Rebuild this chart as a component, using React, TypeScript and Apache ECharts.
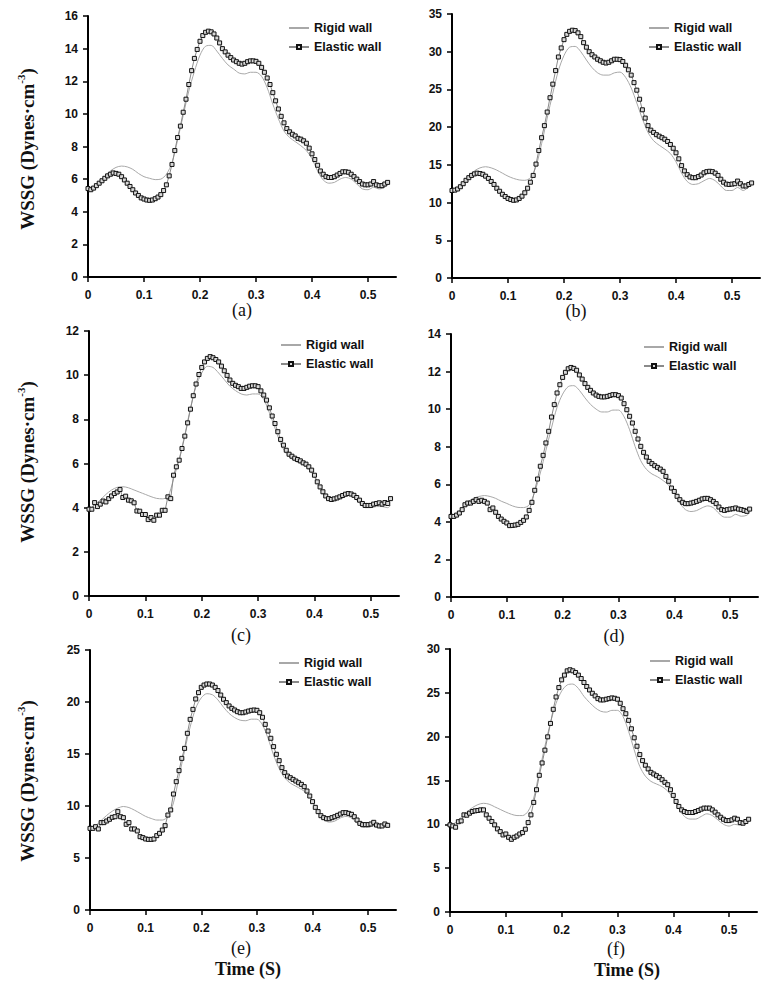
import React, { useEffect, useRef } from "react";
import * as echarts from "echarts";

// sample times (s)
const TIME_ELASTIC = [
  0, 0.005, 0.01, 0.015, 0.02, 0.025, 0.03, 0.035, 0.04, 0.045,
  0.05, 0.055, 0.06, 0.065, 0.07, 0.075, 0.08, 0.085, 0.09, 0.095,
  0.1, 0.105, 0.11, 0.115, 0.12, 0.125, 0.13, 0.135, 0.14, 0.145,
  0.15, 0.155, 0.16, 0.165, 0.17, 0.175, 0.18, 0.185, 0.19, 0.195,
  0.2, 0.205, 0.21, 0.215, 0.22, 0.225, 0.23, 0.235, 0.24, 0.245,
  0.25, 0.255, 0.26, 0.265, 0.27, 0.275, 0.28, 0.285, 0.29, 0.295,
  0.3, 0.305, 0.31, 0.315, 0.32, 0.325, 0.33, 0.335, 0.34, 0.345,
  0.35, 0.355, 0.36, 0.365, 0.37, 0.375, 0.38, 0.385, 0.39, 0.395,
  0.4, 0.405, 0.41, 0.415, 0.42, 0.425, 0.43, 0.435, 0.44, 0.445,
  0.45, 0.455, 0.46, 0.465, 0.47, 0.475, 0.48, 0.485, 0.49, 0.495,
  0.5, 0.505, 0.51, 0.515, 0.52, 0.525, 0.53, 0.535,
];
const TIME_RIGID = [
  0, 0.01, 0.02, 0.03, 0.04, 0.05, 0.06, 0.07, 0.08, 0.09,
  0.1, 0.11, 0.12, 0.13, 0.14, 0.15, 0.16, 0.17, 0.18, 0.19,
  0.2, 0.21, 0.22, 0.23, 0.24, 0.25, 0.26, 0.27, 0.28, 0.29,
  0.3, 0.31, 0.32, 0.33, 0.34, 0.35, 0.36, 0.37, 0.38, 0.39,
  0.4, 0.41, 0.42, 0.43, 0.44, 0.45, 0.46, 0.47, 0.48, 0.49,
  0.5, 0.51, 0.52, 0.53, 0.535,
];
const X_TICKS = [0, 0.1, 0.2, 0.3, 0.4, 0.5];

// (a)
const ELASTIC_A = [
  5.42, 5.35, 5.45, 5.6, 5.75, 5.9, 6.05, 6.2, 6.3, 6.38,
  6.35, 6.3, 6.15, 5.95, 5.75, 5.55, 5.35, 5.15, 5.0, 4.85,
  4.78, 4.72, 4.7, 4.72, 4.8, 4.9, 5.05, 5.3, 5.65, 6.2,
  6.9, 7.75, 8.55, 9.25, 10.1, 10.9, 11.8, 12.65, 13.4, 13.95,
  14.45, 14.8, 15.0, 15.07, 15.03, 14.9, 14.65, 14.35, 14.0, 13.8,
  13.6, 13.45, 13.3, 13.2, 13.1, 13.05, 13.1, 13.2, 13.25, 13.25,
  13.22, 13.1, 12.85, 12.55, 12.2, 11.8, 11.3, 10.8, 10.3, 9.85,
  9.45, 9.1, 8.9, 8.75, 8.65, 8.5, 8.45, 8.35, 8.2, 7.9,
  7.55, 7.2, 6.85, 6.5, 6.3, 6.15, 6.1, 6.1, 6.15, 6.25,
  6.35, 6.45, 6.45, 6.42, 6.3, 6.15, 6.0, 5.85, 5.7, 5.65,
  5.65, 5.7, 5.85, 5.65, 5.6, 5.6, 5.7, 5.8,
];
const RIGID_A = [
  5.4, 5.5, 5.8, 6.15, 6.5, 6.72, 6.8, 6.75, 6.6, 6.35,
  6.15, 6.05, 5.97, 6.0, 6.3, 7.0, 8.4, 9.9, 11.4, 12.6,
  13.6, 14.15, 14.2, 13.85, 13.4, 13.0, 12.75, 12.5, 12.45, 12.55,
  12.55, 12.3, 11.6, 10.6, 9.7, 8.95, 8.55, 8.3, 8.05, 7.75,
  7.25, 6.5, 5.95, 5.75, 5.8, 6.0, 6.1, 6.0, 5.7, 5.4,
  5.35, 5.5, 5.4, 5.5, 5.7,
];
// (b)
const ELASTIC_B = [
  11.6, 11.65, 11.8, 12.1, 12.5, 12.95, 13.3, 13.6, 13.8, 13.9,
  13.85, 13.75, 13.5, 13.2, 12.8, 12.4, 11.9, 11.5, 11.1, 10.8,
  10.55, 10.4, 10.3, 10.35, 10.55, 10.85, 11.3, 11.9, 12.7, 13.6,
  15.1, 16.9, 18.6, 20.2, 22.0, 23.9, 25.7, 27.5, 29.3, 30.5,
  31.6, 32.3, 32.7, 32.85, 32.8, 32.5, 32.0, 31.2, 30.6, 30.0,
  29.6, 29.3, 29.0, 28.8, 28.6, 28.5, 28.6, 28.8, 29.0, 29.0,
  28.95, 28.7, 28.2, 27.6, 26.9, 25.9, 24.9, 23.7, 22.3, 21.2,
  20.2, 19.6, 19.3, 19.0, 18.8, 18.6, 18.4, 18.1, 17.7, 17.2,
  16.6, 15.8, 14.9, 14.2, 13.7, 13.4, 13.3, 13.3, 13.45, 13.65,
  13.95, 14.1, 14.15, 14.1, 13.9, 13.6, 13.1, 12.7, 12.45, 12.4,
  12.45, 12.5, 12.85, 12.5, 12.2, 12.2, 12.4, 12.6,
];
const RIGID_B = [
  11.6, 11.9, 12.6, 13.5, 14.2, 14.6, 14.75, 14.6, 14.3, 13.9,
  13.5, 13.2, 13.0, 12.95, 13.3, 14.8, 17.8, 21.2, 24.5, 27.5,
  29.5, 30.6, 30.7, 30.0, 28.9, 27.9, 27.2, 26.9, 26.9, 27.2,
  27.3, 26.6, 25.2, 23.2, 21.1, 19.3, 18.2, 17.6, 17.1, 16.5,
  15.4, 13.9, 12.8, 12.4, 12.5, 12.9, 13.2, 12.9, 12.2, 11.6,
  11.6, 12.0, 11.6, 12.1, 12.5,
];
// (c)
const ELASTIC_C = [
  3.93, 3.93, 4.23, 4.05, 4.16, 4.3, 4.26, 4.41, 4.53, 4.64,
  4.71, 4.82, 4.46, 4.52, 4.34, 4.31, 4.22, 3.85, 3.84, 3.69,
  3.69, 3.46, 3.55, 3.43, 3.66, 3.66, 3.88, 3.88, 4.49, 4.41,
  5.47, 5.85, 6.15, 6.68, 7.24, 7.84, 8.46, 9.07, 9.6, 10.03,
  10.35, 10.6, 10.76, 10.84, 10.79, 10.71, 10.6, 10.41, 10.2, 9.99,
  9.78, 9.63, 9.54, 9.48, 9.4, 9.4, 9.45, 9.5, 9.52, 9.52,
  9.48, 9.29, 9.1, 8.87, 8.52, 8.15, 7.81, 7.44, 7.09, 6.83,
  6.6, 6.42, 6.33, 6.24, 6.18, 6.12, 6.03, 5.97, 5.85, 5.7,
  5.47, 5.17, 4.94, 4.72, 4.53, 4.41, 4.37, 4.4, 4.44, 4.49,
  4.55, 4.61, 4.64, 4.62, 4.56, 4.46, 4.34, 4.19, 4.1, 4.1,
  4.1, 4.16, 4.19, 4.22, 4.16, 4.23, 4.19, 4.41,
];
const RIGID_C = [
  3.95, 4.1, 4.35, 4.6, 4.8, 4.92, 4.95, 4.9, 4.8, 4.7,
  4.6, 4.5, 4.42, 4.4, 4.5, 5.3, 6.2, 7.3, 8.5, 9.5,
  10.1, 10.4, 10.35, 10.1, 9.8, 9.5, 9.3, 9.15, 9.1, 9.15,
  9.15, 8.9, 8.3, 7.6, 6.9, 6.45, 6.2, 6.05, 5.95, 5.75,
  5.4, 4.85, 4.45, 4.3, 4.35, 4.45, 4.55, 4.45, 4.2, 4.0,
  4.0, 4.05, 4.05, 4.0, 4.1,
];
// (d)
const ELASTIC_D = [
  4.29, 4.29, 4.36, 4.47, 4.65, 4.91, 5.0, 5.0, 5.09, 5.18,
  5.09, 5.15, 5.09, 5.0, 4.65, 4.74, 4.51, 4.29, 4.15, 4.03,
  3.94, 3.8, 3.81, 3.83, 3.87, 3.97, 4.08, 4.26, 4.61, 5.04,
  5.68, 6.28, 6.96, 7.54, 8.2, 8.82, 9.58, 10.24, 10.86, 11.3,
  11.69, 11.96, 12.15, 12.22, 12.17, 12.07, 11.82, 11.6, 11.36, 11.16,
  11.0, 10.86, 10.75, 10.68, 10.65, 10.65, 10.68, 10.73, 10.77, 10.77,
  10.72, 10.59, 10.29, 9.97, 9.62, 9.26, 8.82, 8.41, 8.02, 7.7,
  7.45, 7.22, 7.1, 6.99, 6.9, 6.81, 6.69, 6.42, 6.16, 5.8,
  5.62, 5.36, 5.18, 5.04, 4.97, 4.97, 5.0, 5.04, 5.09, 5.15,
  5.22, 5.25, 5.25, 5.18, 5.09, 4.97, 4.79, 4.65, 4.61, 4.65,
  4.68, 4.7, 4.74, 4.68, 4.65, 4.61, 4.56, 4.68,
];
const RIGID_D = [
  4.29, 4.45, 4.75, 5.05, 5.25, 5.35, 5.4, 5.35, 5.25, 5.1,
  4.98, 4.85, 4.77, 4.76, 4.9, 5.6, 6.6, 7.8, 9.0, 10.1,
  10.8, 11.2, 11.25, 11.0, 10.6, 10.25, 10.0, 9.85, 9.85, 9.95,
  9.95, 9.6, 8.9, 8.0, 7.25, 6.8, 6.55, 6.4, 6.2, 5.95,
  5.55, 5.0, 4.65, 4.55, 4.6, 4.75, 4.85, 4.75, 4.45, 4.25,
  4.25, 4.4, 4.3, 4.35, 4.5,
];
// (e)
const ELASTIC_E = [
  7.85, 7.85, 8.01, 7.79, 8.4, 8.4, 8.56, 8.72, 8.91, 8.97,
  9.46, 8.97, 8.88, 8.24, 8.4, 7.79, 7.79, 7.6, 7.05, 6.96,
  6.83, 6.79, 6.79, 6.83, 7.15, 7.37, 7.69, 8.11, 9.13, 9.62,
  11.15, 12.34, 13.4, 14.58, 15.54, 16.99, 18.33, 19.29, 20.29, 20.9,
  21.41, 21.63, 21.73, 21.73, 21.63, 21.41, 21.1, 20.67, 20.26, 19.94,
  19.62, 19.39, 19.23, 19.07, 18.97, 18.97, 19.04, 19.13, 19.2, 19.23,
  19.2, 18.97, 18.53, 17.85, 17.21, 16.51, 15.71, 14.97, 14.36, 13.69,
  13.21, 12.88, 12.72, 12.56, 12.4, 12.24, 12.08, 11.86, 11.44, 10.96,
  10.42, 9.87, 9.46, 9.07, 8.88, 8.78, 8.78, 8.88, 8.97, 9.1,
  9.23, 9.36, 9.36, 9.29, 9.2, 8.97, 8.65, 8.33, 8.21, 8.21,
  8.21, 8.27, 8.43, 8.17, 8.08, 8.08, 8.27, 8.14,
];
const RIGID_E = [
  7.85, 8.1, 8.6, 9.1, 9.5, 9.8, 9.95, 9.85, 9.6, 9.3,
  9.0, 8.8, 8.65, 8.65, 9.0, 10.3, 12.8, 15.3, 17.6, 19.4,
  20.4, 20.8, 20.7, 20.2, 19.5, 18.9, 18.5, 18.25, 18.2, 18.35,
  18.35, 17.8, 16.5, 14.9, 13.6, 12.7, 12.2, 11.9, 11.6, 11.2,
  10.4, 9.4, 8.7, 8.45, 8.55, 8.85, 9.0, 8.85, 8.35, 7.95,
  7.95, 8.1, 7.9, 8.0, 8.2,
];
// (f)
const ELASTIC_F = [
  9.94, 9.82, 9.67, 10.3, 10.39, 11.08, 11.04, 11.27, 11.46, 11.54,
  11.58, 11.65, 11.65, 11.08, 10.7, 10.32, 9.94, 9.48, 9.17, 8.79,
  8.9, 8.52, 8.29, 8.52, 8.67, 8.9, 9.06, 9.44, 10.2, 11.08,
  12.5, 13.95, 15.59, 17.0, 18.46, 19.98, 21.51, 23.12, 24.53, 25.6,
  26.48, 27.02, 27.51, 27.63, 27.51, 27.32, 27.02, 26.63, 26.18, 25.72,
  25.33, 24.95, 24.65, 24.34, 24.19, 24.19, 24.27, 24.34, 24.42, 24.38,
  24.27, 23.81, 23.19, 22.62, 21.86, 20.9, 19.87, 18.91, 17.96, 17.27,
  16.74, 16.32, 15.93, 15.74, 15.55, 15.36, 15.09, 14.79, 14.52, 13.95,
  13.3, 12.61, 12.04, 11.65, 11.46, 11.35, 11.35, 11.35, 11.46, 11.58,
  11.73, 11.85, 11.85, 11.85, 11.65, 11.39, 11.08, 10.81, 10.58, 10.43,
  10.43, 10.51, 10.7, 10.58, 10.2, 10.13, 10.32, 10.58,
];
const RIGID_F = [
  9.9, 10.2, 10.8, 11.4, 11.9, 12.25, 12.4, 12.3, 12.0, 11.7,
  11.4, 11.15, 11.0, 11.0, 11.5, 13.0, 16.0, 18.9, 21.6, 23.8,
  25.2, 25.9, 26.0, 25.5, 24.6, 23.9, 23.3, 22.9, 22.8, 23.0,
  23.0, 22.3, 20.6, 18.5, 16.6, 15.5, 14.9, 14.6, 14.3, 13.8,
  13.0, 11.8, 10.9, 10.6, 10.6, 10.9, 11.2, 11.0, 10.5, 10.0,
  9.8, 10.0, 9.9, 10.1, 10.4,
];

const PANEL_LABELS = ["(a)", "(b)", "(c)", "(d)", "(e)", "(f)"];
const Y_MAX = [16, 35, 12, 14, 25, 30];
const Y_STEP = [2, 5, 2, 2, 5, 5];
const RIGID = [RIGID_A, RIGID_B, RIGID_C, RIGID_D, RIGID_E, RIGID_F];
const ELASTIC = [ELASTIC_A, ELASTIC_B, ELASTIC_C, ELASTIC_D, ELASTIC_E, ELASTIC_F];
const SERIES_NAMES = ["Rigid wall", "Elastic wall"];
const X_TITLE = "Time (S)";

// layout (pixels)
const GRIDS = [
  { left: 88, top: 16, width: 308, height: 261 },
  { left: 452, top: 14, width: 308, height: 264 },
  { left: 89, top: 331, width: 310, height: 265 },
  { left: 451, top: 334, width: 307, height: 263 },
  { left: 90, top: 650, width: 306, height: 260 },
  { left: 450, top: 649, width: 307, height: 263 },
];
const LEGEND_POS = [
  { left: 288, top: 21 },
  { left: 648, top: 21 },
  { left: 280, top: 338 },
  { left: 643, top: 340 },
  { left: 278, top: 656 },
  { left: 649, top: 654 },
];
const LABEL_POS = [
  [242, 310],
  [576, 311],
  [241, 635],
  [614, 636],
  [241, 948],
  [616, 949],
];

const SANS = "'Liberation Sans', Arial, sans-serif";
const SERIF = "'Liberation Serif', 'Times New Roman', serif";

export default function App() {
  const ref = useRef<HTMLDivElement>(null);

  useEffect(() => {
    if (!ref.current) return;
    const chart = echarts.init(ref.current, null, { renderer: "svg" });

    const axisFont = {
      fontFamily: SANS,
      fontWeight: "bold" as const,
      fontSize: 12,
      color: "#111",
    };

    const grid = GRIDS.map((g) => ({ ...g, containLabel: false }));
    const xAxis = GRIDS.map((_, i) => ({
      type: "value",
      gridIndex: i,
      min: 0,
      max: 0.55,
      interval: 0.1,
      splitLine: { show: false },
      axisLine: { show: true, onZero: false, lineStyle: { color: "#000", width: 2 } },
      axisTick: {
        show: true,
        inside: false,
        length: 5,
        customValues: X_TICKS,
        lineStyle: { color: "#000", width: 1.5 },
      },
      axisLabel: {
        ...axisFont,
        margin: 12,
        customValues: X_TICKS,
        formatter: (v: number) => String(Math.round(v * 10) / 10),
      },
    }));
    const yAxis = GRIDS.map((_, i) => ({
      type: "value",
      gridIndex: i,
      min: 0,
      max: Y_MAX[i],
      interval: Y_STEP[i],
      splitLine: { show: false },
      axisLine: { show: true, onZero: false, lineStyle: { color: "#000", width: 2 } },
      axisTick: { show: true, inside: false, length: 5, lineStyle: { color: "#000", width: 1.5 } },
      axisLabel: { ...axisFont, margin: 10 },
    }));

    const series: any[] = [];
    GRIDS.forEach((_, i) => {
      series.push({
        name: SERIES_NAMES[0],
        type: "line",
        xAxisIndex: i,
        yAxisIndex: i,
        data: TIME_RIGID.map((t, k) => [t, RIGID[i][k]]),
        symbol: "none",
        smooth: 0.3,
        lineStyle: { color: "#a8a8a8", width: 1 },
        itemStyle: { color: "#a8a8a8" },
        z: 2,
      });
      series.push({
        name: SERIES_NAMES[1],
        type: "line",
        xAxisIndex: i,
        yAxisIndex: i,
        data: TIME_ELASTIC.map((t, k) => [t, ELASTIC[i][k]]),
        symbol: "rect",
        symbolSize: 4,
        showSymbol: true,
        lineStyle: { color: "#8a8a8a", width: 1 },
        itemStyle: { color: "#d8d8d8", borderColor: "#111", borderWidth: 1 },
        z: 3,
      });
    });

    const legend = LEGEND_POS.map((p) => ({
      left: p.left,
      top: p.top,
      orient: "vertical",
      itemWidth: 20,
      itemHeight: 5,
      itemGap: 5,
      padding: 0,
      data: [
        { name: SERIES_NAMES[0], itemStyle: { opacity: 0 } },
        { name: SERIES_NAMES[1] },
      ],
      selectedMode: false,
      textStyle: {
        fontFamily: SANS,
        fontWeight: "bold",
        fontSize: 12.5,
        lineHeight: 14,
        color: "#111",
      },
    }));

    const graphic: any[] = [];
    LABEL_POS.forEach((p, i) => {
      graphic.push({
        type: "text",
        x: p[0],
        y: p[1],
        style: {
          text: PANEL_LABELS[i],
          font: `18px ${SERIF}`,
          fill: "#111",
          align: "center",
          verticalAlign: "middle",
        },
      });
    });
    [
      [248, 969],
      [627, 970],
    ].forEach((p) => {
      graphic.push({
        type: "text",
        x: p[0],
        y: p[1],
        style: {
          text: X_TITLE,
          font: `bold 18px ${SERIF}`,
          fill: "#111",
          align: "center",
          verticalAlign: "middle",
        },
      });
    });
    [149, 462, 781].forEach((cy) => {
      graphic.push({
        type: "text",
        x: 27,
        y: cy,
        rotation: Math.PI / 2,
        style: {
          text: "{b|WSSG (Dynes·cm}{s|-3}{b|)}",
          align: "center",
          verticalAlign: "middle",
          fill: "#111",
          rich: {
            b: {
              fontFamily: SERIF,
              fontWeight: "bold",
              fontSize: 19,
              lineHeight: 24,
              fill: "#111",
            },
            s: {
              fontFamily: SERIF,
              fontWeight: "bold",
              fontSize: 11,
              lineHeight: 12,
              fill: "#111",
              verticalAlign: "top",
            },
          },
        },
      });
    });

    chart.setOption({
      animation: false,
      backgroundColor: "#fff",
      grid,
      xAxis,
      yAxis,
      legend,
      series,
      graphic,
    });

    return () => chart.dispose();
  }, []);

  return (
    <div
      ref={ref}
      style={{ position: "absolute", left: 0, top: 0, width: 770, height: 994 }}
    />
  );
}
